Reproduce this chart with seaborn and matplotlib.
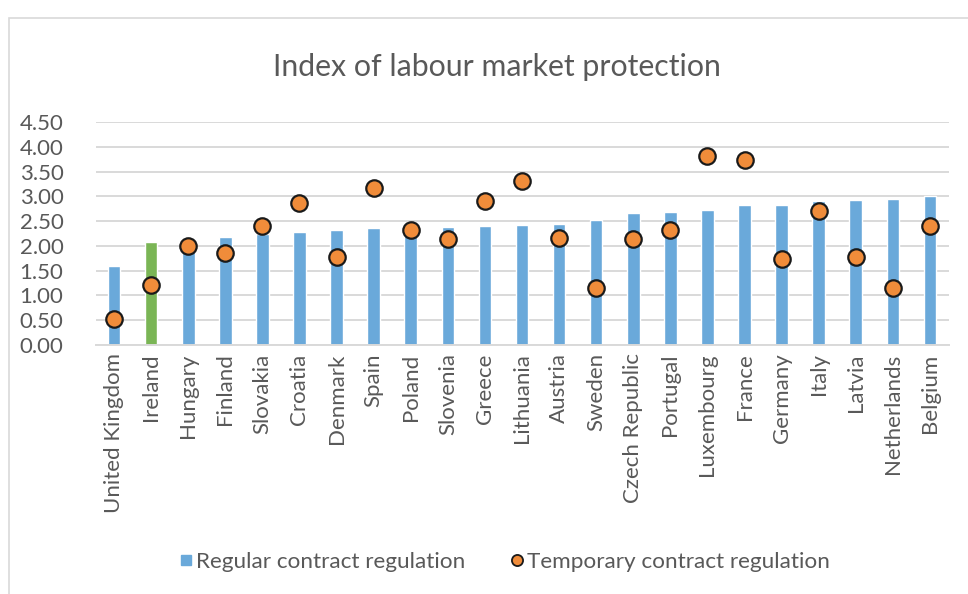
import numpy as np
import matplotlib
matplotlib.use('Agg')
import matplotlib.pyplot as plt
import seaborn as sns
from matplotlib.lines import Line2D
from matplotlib.patches import Rectangle

######################################### DATA #########################################

countries = ['United Kingdom', 'Ireland', 'Hungary', 'Finland', 'Slovakia', 'Croatia', 'Denmark',
             'Spain', 'Poland', 'Slovenia', 'Greece', 'Lithuania', 'Austria', 'Sweden',
             'Czech Republic', 'Portugal', 'Luxembourg', 'France', 'Germany', 'Italy', 'Latvia',
             'Netherlands', 'Belgium']
regular = [1.60, 2.08, 2.00, 2.17, 2.25, 2.29, 2.32, 2.36, 2.35, 2.39, 2.41, 2.43, 2.44, 2.52,
           2.67, 2.69, 2.73, 2.82, 2.83, 2.90, 2.92, 2.94, 3.00]
temporary = [0.53, 1.21, 1.99, 1.86, 2.41, 2.86, 1.78, 3.16, 2.32, 2.13, 2.90, 3.31, 2.15, 1.16,
             2.13, 2.32, 3.82, 3.73, 1.74, 2.70, 1.78, 1.16, 2.40]
highlight = 'Ireland'

######################################### PLOT #########################################

blue = '#6aa9da'
green = '#7ab555'
orange = '#f08c3a'
grey_txt = '#595959'

sns.set_style('white')
plt.rcParams['font.family'] = ['Lato', 'DejaVu Sans']

fig = plt.figure(figsize=(9.68, 5.94), dpi=100)
ax = fig.add_axes([95.5 / 968, 1 - 345 / 594, 853 / 968, 223 / 594])

colors = [green if c == highlight else blue for c in countries]
sns.barplot(x=countries, y=regular, hue=countries, palette=colors, legend=False,
            width=0.34, saturation=1, ax=ax, zorder=2)
sns.scatterplot(x=countries, y=temporary, s=140, color=orange, edgecolor='#1a1a1a',
                linewidth=1.6, ax=ax, zorder=3)

ax.set_ylim(0, 4.5)
ax.set_yticks(np.arange(0, 4.51, 0.5))
ax.set_yticklabels([f'{v:.2f}' for v in np.arange(0, 4.51, 0.5)])
ax.set_xlim(-0.5, len(countries) - 0.5)
ax.grid(axis='y', color='#d9d9d9', linewidth=1.4, zorder=0)
ax.set_axisbelow(True)
for s in ['top', 'right', 'left']:
    ax.spines[s].set_visible(False)
ax.spines['bottom'].set_color('#d9d9d9')
ax.spines['bottom'].set_linewidth(1.4)
ax.tick_params(axis='both', length=0, labelsize=16, labelcolor=grey_txt)
ax.tick_params(axis='y', pad=23)
ax.tick_params(axis='x', pad=6)
plt.setp(ax.get_xticklabels(), rotation=90)
ax.set_xlabel('')
ax.set_ylabel('')

fig.text(0.513, 0.887, 'Index of labour market protection', ha='center', va='center',
         fontsize=21.8, color=grey_txt)

handles = [Line2D([], [], marker='s', linestyle='none', markersize=7, color=blue),
           Line2D([], [], marker='o', linestyle='none', markersize=8, markerfacecolor=orange,
                  markeredgecolor='#1a1a1a', markeredgewidth=1.3)]
fig.legend(handles, ['Regular contract regulation', 'Temporary contract regulation'],
           loc='center', bbox_to_anchor=(0.52, 0.054), ncol=2, frameon=False,
           fontsize=16.2, labelcolor=grey_txt, handletextpad=0.05, columnspacing=1.9,
           handlelength=0.8)

fig.patches.append(Rectangle((9 / 968, -0.1), 1.2, 1 - 18 / 594 + 0.1, transform=fig.transFigure,
                             fill=False, edgecolor='#d9d9d9', linewidth=1.2))

plt.savefig('out.png', dpi=100)
